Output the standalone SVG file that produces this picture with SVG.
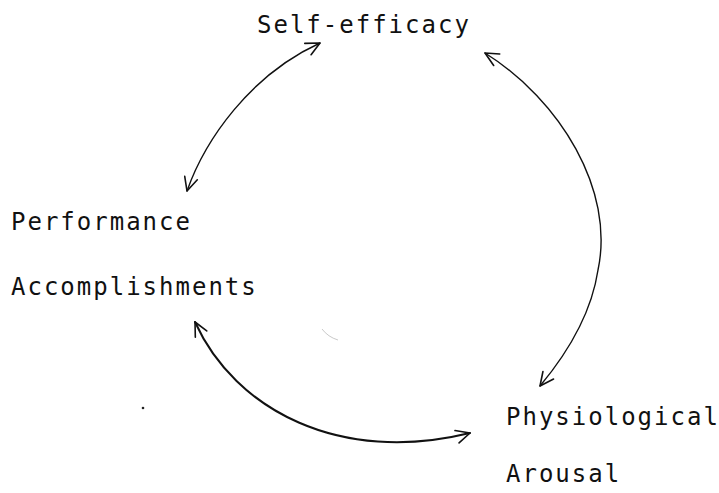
<svg xmlns="http://www.w3.org/2000/svg" width="719" height="493" viewBox="0 0 719 493">
<style>
.lbl{font-family:"DejaVu Sans Mono","Liberation Mono",monospace;font-size:24px;letter-spacing:2px;fill:#111}
.arc{fill:none;stroke:#111;stroke-width:1.4;stroke-linecap:round}
.thick{stroke-width:2}
</style>
<defs>
<marker id="ah" markerUnits="userSpaceOnUse" viewBox="-16 -8 18 16" refX="0" refY="0" markerWidth="18" markerHeight="16" orient="auto-start-reverse">
<path d="M-14,-6 L0,0 L-13,7" fill="none" stroke="#111" stroke-width="1.6" stroke-linecap="round" stroke-linejoin="round"/>
</marker>
</defs>
<rect width="719" height="493" fill="#fff"/>
<g id="connectors">
<path class="arc" d="M187,191 C205,140 250,75 320,43" marker-start="url(#ah)" marker-end="url(#ah)"/>
<path class="arc" d="M485,53 C560,100 615,190 598,270 C592,310 570,350 540,386" marker-start="url(#ah)" marker-end="url(#ah)"/>
<path class="arc thick" d="M195,322 C235,410 340,465 470,433" marker-start="url(#ah)" marker-end="url(#ah)"/>
</g>
<g id="self-efficacy"><text class="lbl" x="257" y="33">Self-efficacy</text></g>
<g id="performance"><text class="lbl" x="11" y="230">Performance</text><text class="lbl" x="11" y="295">Accomplishments</text></g>
<g id="physiological"><text class="lbl" x="506" y="425">Physiological</text><text class="lbl" x="506" y="482">Arousal</text></g>
<circle cx="143" cy="408" r="1.3" fill="#222"/>
<path d="M322,329 Q328,337 338,340" fill="none" stroke="#bbb" stroke-width="0.8"/>
</svg>
